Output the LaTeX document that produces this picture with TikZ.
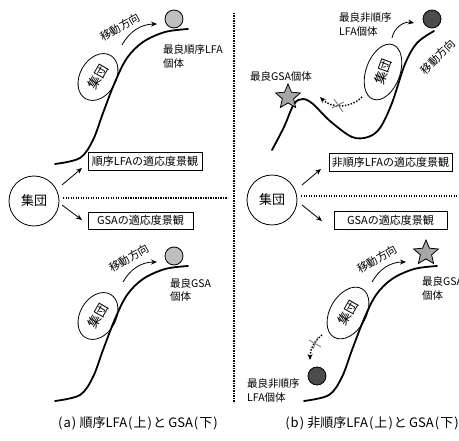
\documentclass[tikz,border=0pt]{standalone}
\usepackage{fontspec}
\setmainfont{Noto Sans CJK JP}
\usetikzlibrary{shapes.geometric,arrows.meta}
\newcommand{\hwp}[1]{\makebox[0.5em]{#1}}
\begin{document}
\begin{tikzpicture}[x=1pt,y=1pt,
  curve/.style={line width=1.8pt, line cap=round},
  box/.style={draw, line width=0.8pt, inner sep=0pt, font=\fontsize{11}{13}\selectfont},
  grp/.style={draw, ellipse, line width=0.8pt, inner sep=0pt, font=\fontsize{13}{15}\selectfont},
  popc/.style={draw, circle, line width=0.8pt, inner sep=0pt, minimum size=50pt, font=\fontsize{13}{15}\selectfont},
  mv/.style={inner sep=0pt, font=\fontsize{11}{13}\selectfont},
  lbl/.style={inner sep=0pt, align=left, anchor=west, font=\fontsize{10.5}{13.5}\selectfont},
  arr/.style={-{Stealth[length=6pt,width=5pt]}, line width=0.8pt},
  dotarr/.style={-{Stealth[length=6pt,width=5pt]}, line width=1.5pt, dash pattern=on 1.4pt off 1.6pt},
  sepline/.style={line width=1.6pt, dash pattern=on 1.3pt off 1.2pt},
  xmark/.style={gray, line width=0.9pt},
  lightball/.style={draw, circle, line width=0.8pt, fill=black!25, minimum size=18pt, inner sep=0pt},
  darkball/.style={draw, circle, line width=0.8pt, fill=black!70, minimum size=18pt, inner sep=0pt},
  starmark/.style={draw, star, star points=5, star point ratio=2.2, line width=0.8pt, fill=black!35, minimum size=26pt, inner sep=0pt},
  capt/.style={inner sep=0pt, font=\fontsize{13}{15}\selectfont}
]
\useasboundingbox (0,0) rectangle (459,-441);

% separators
\coordinate (v1) at (234,-13); \coordinate (v2) at (234,-403);
\draw[sepline] (v1) -- (v2);
\coordinate (h1) at (63,-198); \coordinate (h2) at (228,-198);
\draw[sepline] (h1) -- (h2);
\coordinate (h3) at (301,-196); \coordinate (h4) at (459,-196);
\draw[sepline] (h3) -- (h4);

% ===== (a) top: ordered LFA =====
\draw[curve] plot[smooth, tension=0.55] coordinates {(55,-164) (80,-158) (93,-140) (103,-113) (115,-82) (127,-58) (143,-42) (165,-32) (188,-29)};
\node[lightball] (ballA1) at (174,-19) {};
\node[grp, minimum width=50pt, minimum height=36pt, rotate=60] (grpA1) at (98,-77) {集団};
\coordinate (mA1s) at (122,-45); \coordinate (mA1e) at (157,-24);
\draw[arr] (mA1s) to[bend left=30] (mA1e);
\node[mv, rotate=30] (mvA1) at (120,-27) {移動方向};
\node[lbl] (lblA1) at (163,-56.5) {最良順序LFA\\個体};

% centre population and boxes (a)
\node[popc] (popA) at (34,-201) {集団};
\node[box, minimum width=114pt, minimum height=18pt] (boxA1) at (145,-161) {順序LFAの適応度景観};
\node[box, minimum width=105pt, minimum height=17pt] (boxA2) at (140.5,-220.5) {GSAの適応度景観};
\coordinate (aA1s) at (62,-185); \coordinate (aA1e) at (82,-168);
\coordinate (aA2s) at (62,-205); \coordinate (aA2e) at (82,-220);
\draw[arr] (aA1s) -- (aA1e);
\draw[arr] (aA2s) -- (aA2e);

% ===== (a) bottom: GSA =====
\draw[curve] plot[smooth, tension=0.55] coordinates {(55,-401) (80,-395) (93,-377) (103,-350) (115,-319) (127,-295) (143,-279) (165,-269) (188,-266)};
\node[lightball] (ballA2) at (174,-256) {};
\node[grp, minimum width=50pt, minimum height=36pt, rotate=60] (grpA2) at (98,-316) {集団};
\coordinate (mA2s) at (123,-282); \coordinate (mA2e) at (157,-262);
\draw[arr] (mA2s) to[bend left=30] (mA2e);
\node[mv, rotate=30] (mvA2) at (129,-258) {移動方向};
\node[lbl] (lblA2) at (170,-290) {最良GSA\\個体};

% ===== (b) top: non-ordered LFA =====
\draw[curve] plot[smooth, tension=0.55] coordinates {(272,-150) (284,-127) (294,-104) (303,-99) (313,-104) (330,-121) (352,-137) (368,-137) (380,-128) (392,-103) (405,-64) (417,-43) (434,-31)};
\node[darkball] (ballB1) at (432,-19) {};
\node[starmark] (starB1) at (288,-97) {};
\node[grp, minimum width=58pt, minimum height=34pt, rotate=70] (grpB1) at (383,-72) {集団};
\coordinate (mB1s) at (392,-38); \coordinate (mB1e) at (414,-23);
\draw[arr] (mB1s) to[bend left=45] (mB1e);
\node[mv, rotate=45] (mvB1) at (438,-57) {移動方向};
\node[lbl] (lblB1) at (339,-24.5) {最良非順序\\LFA個体};
\node[lbl, anchor=center] (lblB2) at (281,-77) {最良GSA個体};
\coordinate (dB1s) at (362,-97); \coordinate (dB1e) at (320,-97);
\draw[dotarr] (dB1s) to[bend left=45] (dB1e);
\coordinate (xB1a) at (334,-99); \coordinate (xB1b) at (343,-112);
\coordinate (xB1c) at (332,-108); \coordinate (xB1d) at (344,-102);
\draw[xmark] (xB1a) -- (xB1b);
\draw[xmark] (xB1c) -- (xB1d);

% centre population and boxes (b)
\node[popc] (popB) at (272,-200) {集団};
\node[box, minimum width=123pt, minimum height=18pt] (boxB1) at (390.5,-162) {非順序LFAの適応度景観};
\node[box, minimum width=113pt, minimum height=18pt] (boxB2) at (390.5,-220) {GSAの適応度景観};
\coordinate (aB1s) at (302,-185); \coordinate (aB1e) at (321,-169);
\coordinate (aB2s) at (302,-205); \coordinate (aB2e) at (322,-221);
\draw[arr] (aB1s) -- (aB1e);
\draw[arr] (aB2s) -- (aB2e);

% ===== (b) bottom: GSA =====
\draw[curve] plot[smooth, tension=0.55] coordinates {(304,-401) (329,-395) (342,-377) (352,-350) (364,-319) (376,-295) (392,-279) (414,-269) (437,-266)};
\node[starmark] (starB2) at (426,-253) {};
\node[darkball] (ballB2) at (317,-376) {};
\node[grp, minimum width=56pt, minimum height=36pt, rotate=60] (grpB2) at (348,-313) {集団};
\coordinate (mB2s) at (372,-282); \coordinate (mB2e) at (406,-262);
\draw[arr] (mB2s) to[bend left=30] (mB2e);
\node[mv, rotate=30] (mvB2) at (377,-259) {移動方向};
\node[lbl] (lblB3) at (422,-288.5) {最良GSA\\個体};
\node[lbl] (lblB4) at (247,-390.5) {最良非順序\\LFA個体};
\coordinate (dB2s) at (322,-335); \coordinate (dB2e) at (310,-360);
\draw[dotarr] (dB2s) to[bend right=25] (dB2e);
\coordinate (xB2a) at (309,-340); \coordinate (xB2b) at (321,-347);
\coordinate (xB2c) at (313,-349); \coordinate (xB2d) at (318,-337);
\draw[xmark] (xB2a) -- (xB2b);
\draw[xmark] (xB2c) -- (xB2d);

% captions
\node[capt] (captA) at (138,-423) {\hwp{(}a\hwp{)}\,順序LFA\hwp{(}上\hwp{)}と\,GSA\hwp{(}下\hwp{)}};
\node[capt] (captB) at (372,-423) {\hwp{(}b\hwp{)}\,非順序LFA\hwp{(}上\hwp{)}と\,GSA\hwp{(}下\hwp{)}};
\end{tikzpicture}
\end{document}
